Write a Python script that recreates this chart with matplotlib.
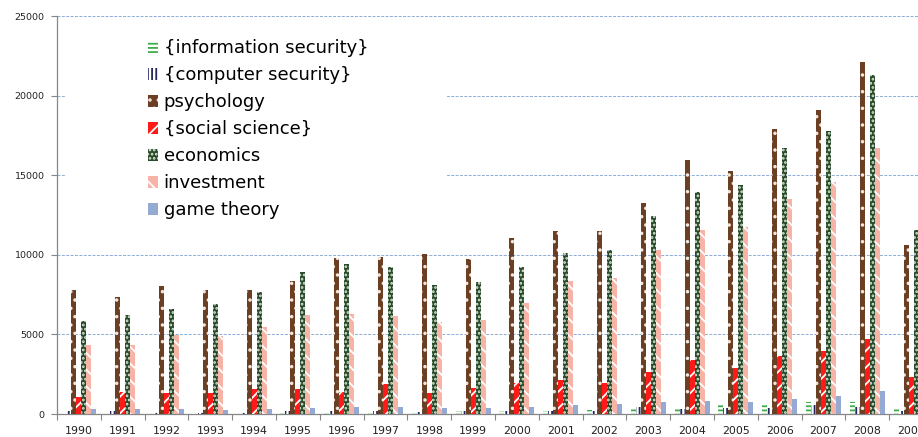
import matplotlib
matplotlib.use("Agg")
import matplotlib.pyplot as plt
from matplotlib.patches import Rectangle
import numpy as np

plt.rcParams["hatch.linewidth"] = 1.3

years = [str(y) for y in range(1990, 2010)]

information_security = [0, 0, 0, 10, 20, 40, 150, 150, 140, 160, 170, 180, 250, 300, 360, 630, 660, 770, 730, 310]
computer_security = [190, 190, 80, 80, 80, 170, 170, 170, 150, 170, 190, 210, 210, 440, 330, 380, 380, 570, 460, 210]
psychology = [7800, 7350, 8040, 7800, 7800, 8350, 9800, 9860, 10050, 9740, 11060, 11500, 11500, 13250, 15950, 15260, 17900, 19100, 22100, 10600]
social_science = [1050, 1400, 1340, 1340, 1550, 1570, 1400, 1860, 1340, 1610, 1930, 2140, 1950, 2640, 3390, 2890, 3640, 3980, 4710, 2340]
economics = [5840, 6220, 6600, 6900, 7660, 8920, 9420, 9230, 8100, 8290, 9230, 10110, 10300, 12440, 13940, 14380, 16710, 17780, 21300, 11560]
investment = [4330, 4330, 4960, 4900, 5460, 6220, 6280, 6160, 5780, 5900, 6970, 8350, 8540, 10300, 11560, 11750, 13500, 14570, 16700, 12800]
game_theory = [295, 300, 330, 230, 310, 380, 420, 440, 380, 380, 440, 570, 610, 730, 820, 770, 920, 1130, 1460, 700]

series = [
    ("{information security}", information_security, dict(facecolor="white", edgecolor="#3FAE49", hatch="----")),
    ("{computer security}", computer_security, dict(facecolor="white", edgecolor="#25285E", hatch="||||")),
    ("psychology", psychology, dict(facecolor="#6A3F24", edgecolor="#F2E6DC", hatch="..")),
    ("{social science}", social_science, dict(facecolor="#FF1A1A", edgecolor="white", hatch="//")),
    ("economics", economics, dict(facecolor="#284A2A", edgecolor="#DDE8D8", hatch="....")),
    ("investment", investment, dict(facecolor="#F6B3A6", edgecolor="white", hatch="\\\\")),
    ("game theory", game_theory, dict(facecolor="#95AAD3", edgecolor="#95AAD3", hatch=None)),
]

W, H = 918, 437
fig = plt.figure(figsize=(W / 100, H / 100), dpi=100)
ax = fig.add_axes([57 / W, 1 - 414 / H, 876 / W, 398 / H])

x = np.arange(len(years))
bw = 0.114
n = len(series)
for i, (name, vals, style) in enumerate(series):
    offs = (i - (n - 1) / 2) * bw
    ax.bar(x + offs, vals, width=bw, linewidth=0, label=name, zorder=3, **style)

ax.set_xlim(-0.5, len(years) - 0.5)
ax.set_ylim(0, 25000)
ax.set_yticks(np.arange(0, 25001, 5000))
ax.set_yticklabels([str(v) for v in range(0, 25001, 5000)], fontsize=6.8, color="#222222")
ax.set_xticks(x)
ax.set_xticklabels(years, fontsize=7.9, color="#222222")
ax.tick_params(axis="x", which="major", length=0, pad=9)
ax.set_xticks(np.arange(-0.5, len(years), 1.0), minor=True)
ax.tick_params(axis="x", which="minor", length=4, color="#868686", width=0.8)
ax.tick_params(axis="y", length=4, color="#868686", width=0.8, pad=5)

for s in ("top", "right"):
    ax.spines[s].set_visible(False)
for s in ("left", "bottom"):
    ax.spines[s].set_color("#868686")
    ax.spines[s].set_linewidth(0.9)

ax.yaxis.grid(True, color="#8EACD8", linestyle=(0, (3, 1.5)), linewidth=0.7)
ax.set_axisbelow(True)

# white panel behind the legend
ax.add_patch(Rectangle((0.0103, 0.457), 0.4347, 0.52, transform=ax.transAxes,
                       facecolor="white", edgecolor="none", zorder=2))

leg = ax.legend(loc="upper left", bbox_to_anchor=(0.0954, 0.96), frameon=False,
                fontsize=13, handlelength=0.55, handleheight=0.6, handletextpad=0.32,
                labelspacing=0.5, borderaxespad=0)
leg.set_zorder(4)

fig.savefig("out.png", dpi=100)
